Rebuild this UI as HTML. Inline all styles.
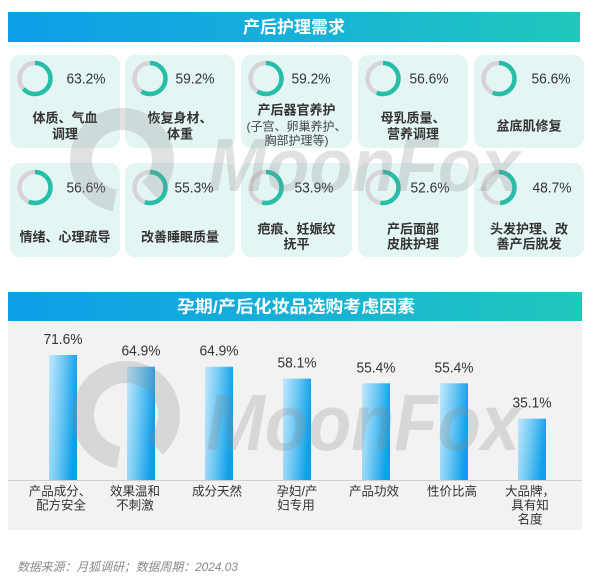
<!DOCTYPE html>
<html><head><meta charset="utf-8">
<style>
html,body{margin:0;padding:0;background:#fff;}
svg{display:block;}
text{font-family:"Liberation Sans","Noto Sans CJK SC",sans-serif;}
</style></head>
<body>
<svg width="600" height="576" viewBox="0 0 600 576" xmlns="http://www.w3.org/2000/svg">
<defs>
<linearGradient id="hdr" x1="0" y1="0" x2="1" y2="0">
<stop offset="0" stop-color="#0e9de8"/>
<stop offset="0.5" stop-color="#17b0d8"/>
<stop offset="1" stop-color="#20c8bb"/>
</linearGradient>
<linearGradient id="bar" x1="0" y1="0" x2="1" y2="0.25">
<stop offset="0" stop-color="#c2e8fb"/>
<stop offset="0.5" stop-color="#6ec8f4"/>
<stop offset="1" stop-color="#129fea"/>
</linearGradient>
</defs>

<!-- Header 1 -->
<rect x="8" y="12" width="572" height="30" fill="url(#hdr)"/>
<text x="294" y="33" font-size="17" font-weight="bold" fill="#fff" text-anchor="middle">产后护理需求</text>

<!-- Cards row 1 -->
<g fill="#e4f6f4">
<rect x="10" y="55" width="110" height="93" rx="10"/>
<rect x="125" y="55" width="110" height="93" rx="10"/>
<rect x="241" y="55" width="111" height="93" rx="10"/>
<rect x="358" y="55" width="110" height="93" rx="10"/>
<rect x="474" y="55" width="110" height="93" rx="10"/>
<rect x="10" y="163" width="110" height="94" rx="10"/>
<rect x="125" y="163" width="110" height="94" rx="10"/>
<rect x="241" y="163" width="111" height="94" rx="10"/>
<rect x="358" y="163" width="110" height="94" rx="10"/>
<rect x="474" y="163" width="110" height="94" rx="10"/>
</g>

<!-- Donuts: circumference 2*pi*15.5 = 97.39 -->
<g fill="none" stroke-width="4.5">
<!-- row1 -->
<circle cx="35" cy="78.5" r="15.5" stroke="#d8d3d6"/>
<circle cx="35" cy="78.5" r="15.5" stroke="#25bfa9" stroke-dasharray="61.55 97.39" transform="rotate(-90 35 78.5)"/>
<circle cx="150" cy="78.5" r="15.5" stroke="#d8d3d6"/>
<circle cx="150" cy="78.5" r="15.5" stroke="#25bfa9" stroke-dasharray="57.66 97.39" transform="rotate(-90 150 78.5)"/>
<circle cx="266" cy="78.5" r="15.5" stroke="#d8d3d6"/>
<circle cx="266" cy="78.5" r="15.5" stroke="#25bfa9" stroke-dasharray="57.66 97.39" transform="rotate(-90 266 78.5)"/>
<circle cx="383" cy="78.5" r="15.5" stroke="#d8d3d6"/>
<circle cx="383" cy="78.5" r="15.5" stroke="#25bfa9" stroke-dasharray="55.12 97.39" transform="rotate(-90 383 78.5)"/>
<circle cx="499" cy="78.5" r="15.5" stroke="#d8d3d6"/>
<circle cx="499" cy="78.5" r="15.5" stroke="#25bfa9" stroke-dasharray="55.12 97.39" transform="rotate(-90 499 78.5)"/>
<!-- row2 -->
<circle cx="35" cy="187.5" r="15.5" stroke="#d8d3d6"/>
<circle cx="35" cy="187.5" r="15.5" stroke="#25bfa9" stroke-dasharray="55.12 97.39" transform="rotate(-90 35 187.5)"/>
<circle cx="150" cy="187.5" r="15.5" stroke="#d8d3d6"/>
<circle cx="150" cy="187.5" r="15.5" stroke="#25bfa9" stroke-dasharray="53.86 97.39" transform="rotate(-90 150 187.5)"/>
<circle cx="266" cy="187.5" r="15.5" stroke="#d8d3d6"/>
<circle cx="266" cy="187.5" r="15.5" stroke="#25bfa9" stroke-dasharray="52.49 97.39" transform="rotate(-90 266 187.5)"/>
<circle cx="383" cy="187.5" r="15.5" stroke="#d8d3d6"/>
<circle cx="383" cy="187.5" r="15.5" stroke="#25bfa9" stroke-dasharray="51.23 97.39" transform="rotate(-90 383 187.5)"/>
<circle cx="499" cy="187.5" r="15.5" stroke="#d8d3d6"/>
<circle cx="499" cy="187.5" r="15.5" stroke="#25bfa9" stroke-dasharray="47.43 97.39" transform="rotate(-90 499 187.5)"/>
</g>

<!-- Percent texts -->
<g font-size="14.5" fill="#333" text-anchor="middle">
<text x="86" y="83.5" textLength="39" lengthAdjust="spacingAndGlyphs">63.2%</text>
<text x="195" y="83.5" textLength="39" lengthAdjust="spacingAndGlyphs">59.2%</text>
<text x="311" y="83.5" textLength="39" lengthAdjust="spacingAndGlyphs">59.2%</text>
<text x="429" y="83.5" textLength="39" lengthAdjust="spacingAndGlyphs">56.6%</text>
<text x="551" y="83.5" textLength="39" lengthAdjust="spacingAndGlyphs">56.6%</text>
<text x="86" y="192.5" textLength="39" lengthAdjust="spacingAndGlyphs">56.6%</text>
<text x="194" y="192.5" textLength="39" lengthAdjust="spacingAndGlyphs">55.3%</text>
<text x="314" y="192.5" textLength="39" lengthAdjust="spacingAndGlyphs">53.9%</text>
<text x="430" y="192.5" textLength="39" lengthAdjust="spacingAndGlyphs">52.6%</text>
<text x="552" y="192.5" textLength="39" lengthAdjust="spacingAndGlyphs">48.7%</text>
</g>

<!-- Card labels -->
<g font-size="13" font-weight="bold" fill="#333" text-anchor="middle">
<text x="65" y="122.5">体质、气血</text>
<text x="65" y="138.5">调理</text>
<text x="180" y="122.5">恢复身材、</text>
<text x="180" y="138.5">体重</text>
<text x="296.5" y="114.5">产后器官养护</text>
<text x="413" y="122.5">母乳质量、</text>
<text x="413" y="138.5">营养调理</text>
<text x="529" y="130.5">盆底肌修复</text>
<text x="65" y="241.5">情绪、心理疏导</text>
<text x="180" y="241.5">改善睡眠质量</text>
<text x="296.5" y="233.5">疤痕、妊娠纹</text>
<text x="296.5" y="248.5">抚平</text>
<text x="413" y="233.5">产后面部</text>
<text x="413" y="248.5">皮肤护理</text>
<text x="529" y="233.5">头发护理、改</text>
<text x="529" y="248.5">善产后脱发</text>
</g>
<g font-size="12" fill="#444" text-anchor="middle">
<text x="296.5" y="130.5">(子宫、卵巢养护、</text>
<text x="296.5" y="144.5">胸部护理等)</text>
</g>

<!-- Header 2 -->
<rect x="8" y="292" width="574" height="29" fill="url(#hdr)"/>
<text x="296" y="312.5" font-size="17" font-weight="bold" fill="#fff" text-anchor="middle" textLength="238" lengthAdjust="spacingAndGlyphs">孕期/产后化妆品选购考虑因素</text>

<!-- Chart background -->
<rect x="8" y="321" width="574" height="209" fill="#f2f2f2"/>

<!-- Bars -->
<g fill="url(#bar)">
<rect x="49" y="355" width="28" height="125"/>
<rect x="127" y="366.7" width="28" height="113.3"/>
<rect x="205" y="366.7" width="28" height="113.3"/>
<rect x="283" y="378.6" width="28" height="101.4"/>
<rect x="362" y="383.3" width="28" height="96.7"/>
<rect x="440" y="383.3" width="28" height="96.7"/>
<rect x="518" y="418.7" width="28" height="61.3"/>
</g>
<line x1="8" y1="480.5" x2="582" y2="480.5" stroke="#cfcfcf" stroke-width="1"/>

<!-- Bar values -->
<g font-size="14.5" fill="#333" text-anchor="middle">
<text x="63" y="344" textLength="39" lengthAdjust="spacingAndGlyphs">71.6%</text>
<text x="141" y="355.7" textLength="39" lengthAdjust="spacingAndGlyphs">64.9%</text>
<text x="219" y="355.7" textLength="39" lengthAdjust="spacingAndGlyphs">64.9%</text>
<text x="297" y="367.6" textLength="39" lengthAdjust="spacingAndGlyphs">58.1%</text>
<text x="376" y="372.3" textLength="39" lengthAdjust="spacingAndGlyphs">55.4%</text>
<text x="454" y="372.3" textLength="39" lengthAdjust="spacingAndGlyphs">55.4%</text>
<text x="532" y="407.7" textLength="39" lengthAdjust="spacingAndGlyphs">35.1%</text>
</g>

<!-- Category labels -->
<g font-size="12.5" fill="#333" text-anchor="middle">
<text x="60" y="495.5">产品成分、</text>
<text x="61" y="509.5">配方安全</text>
<text x="135" y="495.5">效果温和</text>
<text x="135" y="509.5">不刺激</text>
<text x="217" y="495.5">成分天然</text>
<text x="297" y="495.5">孕妇/产</text>
<text x="296" y="509.5">妇专用</text>
<text x="374" y="495.5">产品功效</text>
<text x="452" y="495.5">性价比高</text>
<text x="530" y="495.5">大品牌，</text>
<text x="530" y="509.5">具有知</text>
<text x="530" y="523.5">名度</text>
</g>

<!-- Footer -->
<text x="17" y="571" font-size="12" font-style="italic" fill="#8a8a8a" textLength="221" lengthAdjust="spacingAndGlyphs">数据来源：月狐调研；数据周期：2024.03</text>

<!-- Watermarks -->
<g opacity="0.26" fill="#8a8a8a">
<circle cx="122" cy="160" r="41" fill="none" stroke="#8a8a8a" stroke-width="22" stroke-dasharray="220 37.6" transform="rotate(100 122 160)"/>
<text x="208" y="191" font-size="75" font-weight="bold" font-style="italic" textLength="312" lengthAdjust="spacingAndGlyphs">MoonFox</text>
<circle cx="126" cy="415" r="43" fill="none" stroke="#8a8a8a" stroke-width="22" stroke-dasharray="230 40" transform="rotate(100 126 415)"/>
<text x="206" y="450" font-size="80" font-weight="bold" font-style="italic" textLength="314" lengthAdjust="spacingAndGlyphs">MoonFox</text>
</g>
</svg>
</body></html>
